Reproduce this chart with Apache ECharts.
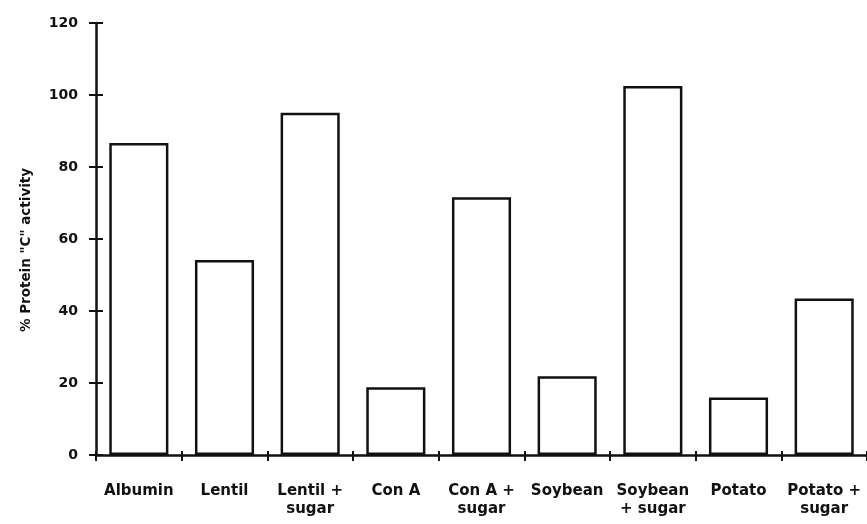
<!DOCTYPE html>
<html>
<head>
<meta charset="utf-8">
<script src="https://cdn.jsdelivr.net/npm/echarts@6/dist/echarts.min.js"></script>
<style>
  html, body { margin: 0; padding: 0; background: #fff; }
  #chart { width: 867px; height: 524px; }
</style>
</head>
<body>
<div id="chart"></div>
<script>
// values
const categories = ['Albumin', 'Lentil', 'Lentil +\nsugar', 'Con A', 'Con A +\nsugar', 'Soybean', 'Soybean\n+ sugar', 'Potato', 'Potato +\nsugar']
const activity = [86.7, 54.2, 95.1, 18.8, 71.6, 21.9, 102.5, 16.0, 43.5]
const yTicks = [0, 20, 40, 60, 80, 100, 120]

const ink = '#111'
const lineW = 2.5
const fontFamily = '"DejaVu Sans", sans-serif'

const chart = echarts.init(document.getElementById('chart'))

chart.setOption({
  backgroundColor: '#fff',
  animation: false,
  grid: {
    left: 96,
    right: -7,
    top: 23,
    bottom: 69
  },
  xAxis: [{
    type: 'category',
    data: categories,
    position: 'bottom',
    axisLine: { lineStyle: { color: ink, width: lineW } },
    axisTick: { show: true, length: 6, lineStyle: { color: ink, width: 2 } },
    axisLabel: {
      color: ink,
      fontFamily,
      fontWeight: 'bold',
      fontSize: 15,
      lineHeight: 18,
      margin: 27,
      interval: 0
    }
  }, {
    // second axis only to make the ticks cross the line
    type: 'category',
    data: categories,
    position: 'bottom',
    axisLine: { show: false },
    axisTick: { show: true, inside: true, length: 4, lineStyle: { color: ink, width: 2 } },
    axisLabel: { show: false }
  }],
  yAxis: [{
    type: 'value',
    min: yTicks[0],
    max: yTicks[yTicks.length - 1],
    interval: 20,
    position: 'left',
    name: '% Protein "C" activity',
    nameLocation: 'middle',
    nameGap: 63,
    nameTextStyle: { color: ink, fontFamily, fontWeight: 'bold', fontSize: 13.5, padding: [0, 22, 0, 0] },
    splitLine: { show: false },
    axisLine: { show: true, lineStyle: { color: ink, width: lineW } },
    axisTick: { show: true, length: 7, lineStyle: { color: ink, width: 2 } },
    axisLabel: {
      color: ink,
      fontFamily,
      fontWeight: 'bold',
      fontSize: 14,
      margin: 18
    }
  }, {
    type: 'value',
    min: yTicks[0],
    max: yTicks[yTicks.length - 1],
    interval: 20,
    position: 'left',
    splitLine: { show: false },
    axisLine: { show: false },
    axisTick: { show: true, inside: true, length: 7, lineStyle: { color: ink, width: 2 } },
    axisLabel: { show: false }
  }],
  series: [{
    type: 'bar',
    xAxisIndex: 0,
    yAxisIndex: 0,
    data: activity,
    barWidth: '69%',
    itemStyle: {
      color: '#fff',
      borderColor: ink,
      borderWidth: lineW
    }
  }]
})
</script>
</body>
</html>
